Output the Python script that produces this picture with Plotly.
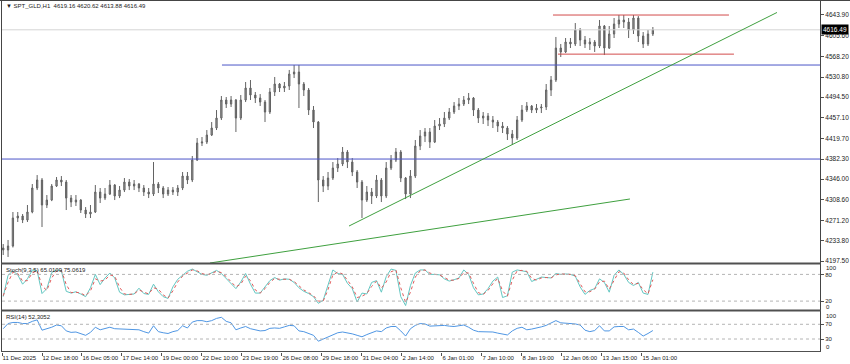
import plotly.graph_objects as go

# ---------------- data ----------------
bar_hours = list(range(1, 540, 4))  # 4-hour candles on an hourly time index

opens = [4221.1, 4217.5, 4224.7, 4275.4, 4279.0, 4271.8, 4286.3, 4329.8, 4344.3, 4299.0,
         4308.0, 4333.4, 4344.3, 4340.6, 4311.6, 4304.4, 4308.0, 4289.9, 4282.7, 4286.3,
         4322.5, 4311.6, 4318.9, 4335.2, 4315.3, 4326.1, 4340.6, 4333.4, 4337.0, 4329.8,
         4322.5, 4318.9, 4337.0, 4329.8, 4318.9, 4326.1, 4322.5, 4329.8, 4351.5, 4344.3,
         4380.5, 4411.3, 4413.1, 4425.8, 4438.5, 4456.6, 4489.3, 4482.0, 4489.3, 4456.6,
         4489.3, 4511.0, 4498.3, 4492.9, 4485.6, 4467.5, 4503.8, 4518.3, 4511.0, 4514.6,
         4536.4, 4540.0, 4518.3, 4507.4, 4471.1, 4449.4, 4344.3, 4333.4, 4347.9, 4366.0,
         4373.3, 4395.0, 4376.9, 4358.8, 4340.6, 4308.0, 4322.5, 4315.3, 4344.3, 4315.3,
         4366.0, 4380.5, 4395.0, 4347.9, 4318.9, 4351.5, 4405.9, 4424.0, 4431.3, 4413.1,
         4442.1, 4445.8, 4456.6, 4467.5, 4478.4, 4482.0, 4489.3, 4492.9, 4471.1, 4456.6,
         4460.3, 4453.0, 4449.4, 4442.1, 4438.5, 4427.6, 4420.4, 4453.0, 4471.1, 4478.4,
         4471.1, 4474.8, 4476.6, 4507.4, 4525.5, 4583.5, 4576.3, 4594.4, 4590.8, 4616.1,
         4598.0, 4590.8, 4594.4, 4587.1, 4623.4, 4583.5, 4608.9, 4627.0, 4634.3, 4630.6,
         4616.1, 4637.9, 4605.3, 4590.8, 4608.9]

highs = [4228.3, 4235.6, 4286.3, 4286.3, 4282.7, 4299.0, 4337.0, 4353.3, 4347.9, 4317.1,
         4337.0, 4349.7, 4351.5, 4344.3, 4317.1, 4317.1, 4309.8, 4295.3, 4299.0, 4335.2,
         4329.8, 4329.8, 4344.3, 4337.0, 4333.4, 4347.9, 4346.1, 4344.3, 4338.8, 4335.2,
         4329.8, 4376.9, 4340.6, 4333.4, 4331.6, 4331.6, 4335.2, 4358.8, 4358.8, 4387.8,
         4420.4, 4422.2, 4434.9, 4449.4, 4471.1, 4496.5, 4494.7, 4496.5, 4491.1, 4498.3,
         4521.9, 4525.5, 4503.8, 4500.1, 4489.3, 4511.0, 4531.0, 4520.1, 4521.9, 4543.7,
         4552.7, 4552.7, 4521.9, 4511.0, 4478.4, 4451.2, 4351.5, 4358.8, 4376.9, 4384.1,
         4404.1, 4398.6, 4384.1, 4362.4, 4344.3, 4333.4, 4329.8, 4353.3, 4347.9, 4376.9,
         4389.6, 4402.3, 4398.6, 4349.7, 4362.4, 4416.8, 4434.9, 4438.5, 4438.5, 4453.0,
         4456.6, 4467.5, 4474.8, 4485.6, 4492.9, 4496.5, 4502.0, 4494.7, 4474.8, 4467.5,
         4465.7, 4460.3, 4453.0, 4449.4, 4442.1, 4434.9, 4460.3, 4480.2, 4485.6, 4480.2,
         4482.0, 4482.0, 4518.3, 4532.8, 4603.5, 4590.8, 4601.6, 4601.6, 4628.8, 4619.8,
         4605.3, 4601.6, 4598.0, 4634.3, 4625.2, 4623.4, 4637.9, 4643.3, 4643.3, 4637.9,
         4643.3, 4641.5, 4612.5, 4616.1, 4621.6]

lows = [4208.4, 4204.8, 4222.0, 4268.2, 4266.3, 4268.2, 4284.0, 4326.1, 4259.1, 4293.5,
        4306.0, 4331.6, 4333.4, 4289.9, 4295.3, 4297.2, 4284.5, 4275.4, 4275.4, 4284.5,
        4302.6, 4308.0, 4317.1, 4308.0, 4311.6, 4322.5, 4326.1, 4326.1, 4322.5, 4315.3,
        4311.6, 4315.3, 4320.7, 4311.6, 4315.3, 4317.1, 4315.3, 4326.1, 4337.0, 4340.6,
        4378.7, 4405.9, 4409.5, 4424.0, 4434.9, 4453.0, 4474.8, 4476.6, 4431.3, 4453.0,
        4485.6, 4489.3, 4483.8, 4478.4, 4449.4, 4463.9, 4496.5, 4503.8, 4503.8, 4507.4,
        4529.1, 4474.8, 4496.5, 4462.1, 4438.5, 4304.4, 4322.5, 4326.1, 4344.3, 4358.8,
        4369.6, 4366.0, 4351.5, 4329.8, 4275.4, 4304.4, 4300.8, 4311.6, 4304.4, 4311.6,
        4362.4, 4376.9, 4340.6, 4309.8, 4311.6, 4347.9, 4398.6, 4413.1, 4402.3, 4411.3,
        4434.9, 4440.3, 4453.0, 4463.9, 4471.1, 4478.4, 4482.0, 4460.3, 4447.6, 4445.8,
        4442.1, 4438.5, 4431.3, 4429.5, 4416.8, 4407.7, 4416.8, 4449.4, 4467.5, 4465.7,
        4465.7, 4465.7, 4471.1, 4496.5, 4521.9, 4567.2, 4574.4, 4583.5, 4587.1, 4587.1,
        4583.5, 4579.9, 4576.3, 4583.5, 4570.8, 4581.7, 4601.6, 4619.8, 4619.8, 4601.6,
        4608.9, 4594.4, 4583.5, 4587.1, 4605.3]

closes = [4217.5, 4224.7, 4275.4, 4279.0, 4271.8, 4286.3, 4329.8, 4344.3, 4299.0, 4308.0,
          4333.4, 4344.3, 4340.6, 4311.6, 4304.4, 4308.0, 4289.9, 4282.7, 4286.3, 4322.5,
          4311.6, 4318.9, 4335.2, 4315.3, 4326.1, 4340.6, 4333.4, 4337.0, 4329.8, 4322.5,
          4318.9, 4337.0, 4329.8, 4318.9, 4326.1, 4322.5, 4329.8, 4351.5, 4344.3, 4380.5,
          4411.3, 4413.1, 4425.8, 4438.5, 4456.6, 4489.3, 4482.0, 4489.3, 4456.6, 4489.3,
          4511.0, 4498.3, 4492.9, 4485.6, 4467.5, 4503.8, 4518.3, 4511.0, 4514.6, 4536.4,
          4540.0, 4518.3, 4507.4, 4471.1, 4449.4, 4344.3, 4333.4, 4347.9, 4366.0, 4373.3,
          4395.0, 4376.9, 4358.8, 4340.6, 4308.0, 4322.5, 4315.3, 4344.3, 4315.3, 4366.0,
          4380.5, 4395.0, 4347.9, 4318.9, 4351.5, 4405.9, 4424.0, 4431.3, 4413.1, 4442.1,
          4445.8, 4456.6, 4467.5, 4478.4, 4482.0, 4489.3, 4492.9, 4471.1, 4456.6, 4460.3,
          4453.0, 4449.4, 4442.1, 4438.5, 4427.6, 4420.4, 4453.0, 4471.1, 4478.4, 4471.1,
          4474.8, 4476.6, 4507.4, 4525.5, 4583.5, 4576.3, 4594.4, 4590.8, 4616.1, 4598.0,
          4590.8, 4594.4, 4587.1, 4623.4, 4583.5, 4608.9, 4627.0, 4634.3, 4630.6, 4616.1,
          4637.9, 4605.3, 4590.8, 4608.9, 4616.49]

stoch_main = [30, 78, 88, 79, 58, 70, 90, 88, 37, 48, 84, 90, 88, 42, 38, 41, 36, 30, 50, 80,
              57, 72, 83, 72, 40, 34, 35, 36, 49, 37, 35, 58, 41, 30, 26, 52, 69, 79, 87, 92,
              86, 80, 78, 84, 89, 82, 71, 59, 48, 63, 82, 58, 38, 38, 53, 66, 73, 67, 70, 69,
              62, 50, 42, 37, 30, 15, 22, 58, 90, 82, 80, 60, 48, 18, 38, 36, 62, 66, 40, 75,
              92, 89, 30, 10, 55, 83, 90, 90, 80, 80, 79, 70, 65, 68, 72, 90, 80, 50, 34, 36,
              48, 65, 74, 28, 32, 85, 90, 88, 86, 64, 69, 74, 73, 72, 82, 80, 81, 80, 76, 52,
              35, 44, 48, 70, 62, 40, 78, 90, 80, 62, 55, 62, 38, 35, 85]

stoch_signal = [32, 62, 85, 82, 65, 66, 83, 89, 54, 44, 72, 88, 89, 57, 39, 40, 38, 32, 43, 70,
                65, 67, 79, 76, 51, 36, 35, 36, 45, 41, 36, 50, 47, 34, 27, 43, 63, 76, 84, 90,
                88, 82, 79, 82, 87, 84, 75, 63, 52, 58, 76, 66, 45, 38, 48, 62, 71, 69, 69, 69,
                64, 54, 45, 39, 32, 20, 20, 46, 79, 85, 81, 67, 52, 28, 31, 37, 53, 65, 49, 63,
                86, 90, 50, 17, 40, 74, 88, 90, 83, 80, 79, 73, 67, 67, 71, 84, 83, 60, 39, 35,
                44, 59, 71, 43, 31, 67, 88, 89, 87, 71, 67, 72, 73, 72, 79, 81, 81, 80, 77, 60,
                41, 41, 47, 63, 65, 47, 65, 86, 83, 68, 57, 60, 46, 36, 68]

rsi_values = [58, 72, 75, 75, 72, 72, 78, 82, 54, 57, 62, 68, 66, 52, 48, 49, 45, 40, 48, 62,
              55, 58, 62, 58, 57, 58, 55, 56, 55, 50, 46, 66, 50, 47, 45, 50, 53, 66, 60, 76,
              80, 80, 77, 80, 86, 89, 78, 74, 55, 60, 64, 58, 54, 52, 53, 59, 60, 59, 63, 67,
              66, 52, 50, 44, 40, 24, 30, 34, 40, 47, 49, 47, 44, 40, 36, 42, 46, 52, 50, 60,
              64, 64, 52, 38, 58, 67, 72, 71, 65, 66, 68, 67, 65, 64, 66, 68, 62, 54, 50, 50,
              50, 49, 46, 44, 41, 52, 59, 62, 55, 57, 59, 63, 67, 74, 80, 74, 73, 73, 71, 68,
              54, 50, 53, 66, 52, 52, 63, 64, 64, 55, 57, 48, 38, 45, 53]

price_ticks = [4643.90, 4605.60, 4568.20, 4530.80, 4494.50, 4457.10, 4419.70,
               4382.30, 4346.00, 4308.60, 4271.20, 4233.80, 4197.50]

time_tick_hours = [0, 33, 66, 99, 132, 165, 198, 231, 264, 297, 330, 363, 396, 429, 462, 495, 528]
time_tick_labels = ["11 Dec 2025", "12 Dec 18:00", "16 Dec 05:00", "17 Dec 14:00", "19 Dec 00:00",
                    "22 Dec 10:00", "23 Dec 19:00", "26 Dec 08:00", "29 Dec 18:00", "31 Dec 04:00",
                    "2 Jan 14:00", "6 Jan 01:00", "7 Jan 10:00", "8 Jan 19:00", "12 Jan 06:00",
                    "13 Jan 15:00", "15 Jan 01:00"]

# drawn objects (time index, price)
blue_levels = [4552.7, 4382.3]
blue_starts = [181.5, 0.0]
red_levels = [4643.3, 4572.4]
red_starts = [454.6, 458.7]
red_ends = [599.8, 603.9]
green_t0 = [286.3, 171.6]
green_p0 = [4260.9, 4193.9]
green_t1 = [639.4, 518.1]
green_p1 = [4647.9, 4309.9]
current_price = 4616.49

header_text = "\u25bc SPT_GLD,H1  4619.16 4620.62 4613.88 4616.49"
stoch_text = "Stoch(9,3,5) 65.0109 75.0619"
rsi_text = "RSI(14) 52.3052"

# ---------------- layout helpers ----------------
W, H = 850, 364
X_END = 674.9
FONT = "Liberation Sans"


def px(x):
    return x / W


def py(y):
    return 1 - y / H


fig = go.Figure()

fig.add_trace(go.Candlestick(
    x=bar_hours, open=opens, high=highs, low=lows, close=closes,
    increasing=dict(line=dict(color="#636363", width=1), fillcolor="#a0a0a0"),
    decreasing=dict(line=dict(color="#636363", width=1), fillcolor="#636363"),
    whiskerwidth=0, xaxis="x", yaxis="y", hoverinfo="skip", showlegend=False))

fig.add_trace(go.Scatter(x=bar_hours, y=stoch_main, mode="lines",
                         line=dict(color="#63c6c1", width=1), xaxis="x", yaxis="y2",
                         hoverinfo="skip", showlegend=False))
fig.add_trace(go.Scatter(x=bar_hours, y=stoch_signal, mode="lines",
                         line=dict(color="#e05a5a", width=1, dash="dot"), xaxis="x", yaxis="y2",
                         hoverinfo="skip", showlegend=False))
fig.add_trace(go.Scatter(x=bar_hours, y=rsi_values, mode="lines",
                         line=dict(color="#4f96e3", width=1), xaxis="x", yaxis="y3",
                         hoverinfo="skip", showlegend=False))

shapes = []
# current price line
shapes.append(dict(type="line", xref="x domain", yref="y", x0=0, x1=1,
                   y0=current_price, y1=current_price, line=dict(color="#d4d4d4", width=1)))
for lvl, st in zip(blue_levels, blue_starts):
    shapes.append(dict(type="line", xref="x", yref="y", x0=st, x1=X_END, y0=lvl, y1=lvl,
                       line=dict(color="#4b55c8", width=1)))
for lvl, st, en in zip(red_levels, red_starts, red_ends):
    shapes.append(dict(type="line", xref="x", yref="y", x0=st, x1=en, y0=lvl, y1=lvl,
                       line=dict(color="#d24b4b", width=1)))
for t0, p0, t1, p1 in zip(green_t0, green_p0, green_t1, green_p1):
    shapes.append(dict(type="line", xref="x", yref="y", x0=t0, x1=t1, y0=p0, y1=p1,
                       line=dict(color="#3fa03f", width=1)))
# indicator levels
for lvl in (80, 20):
    shapes.append(dict(type="line", xref="x domain", yref="y2", x0=0, x1=1, y0=lvl, y1=lvl,
                       line=dict(color="#b4b4b4", width=1, dash="dot")))
for lvl in (70, 30):
    shapes.append(dict(type="line", xref="x domain", yref="y3", x0=0, x1=1, y0=lvl, y1=lvl,
                       line=dict(color="#b4b4b4", width=1, dash="dot")))
# frames
frame = "#454545"
shapes.append(dict(type="line", xref="paper", yref="paper", x0=0, x1=1, y0=py(0.5), y1=py(0.5),
                   line=dict(color=frame, width=1)))
shapes.append(dict(type="line", xref="paper", yref="paper", x0=px(1.5), x1=px(1.5), y0=py(0), y1=py(352),
                   line=dict(color=frame, width=1)))
shapes.append(dict(type="line", xref="paper", yref="paper", x0=px(820.5), x1=px(820.5), y0=py(0), y1=py(352),
                   line=dict(color=frame, width=1)))
for yy, ww in ((263.5, 2), (310.5, 2), (351.5, 1)):
    shapes.append(dict(type="line", xref="paper", yref="paper", x0=px(1), x1=px(821), y0=py(yy), y1=py(yy),
                       line=dict(color="#505050", width=ww)))

annotations = [
    dict(text=header_text, xref="paper", yref="paper", x=px(4), y=py(6), xanchor="left", yanchor="middle",
         showarrow=False, font=dict(family=FONT, size=6, color="#1a1a1a")),
    dict(text=stoch_text, xref="paper", yref="paper", x=px(4), y=py(270), xanchor="left", yanchor="middle",
         showarrow=False, font=dict(family=FONT, size=6, color="#1a1a1a")),
    dict(text=rsi_text, xref="paper", yref="paper", x=px(4), y=py(317), xanchor="left", yanchor="middle",
         showarrow=False, font=dict(family=FONT, size=6, color="#1a1a1a")),
    dict(text=f"{current_price:.2f}", xref="paper", yref="y", x=px(821), y=current_price,
         xanchor="left", yanchor="middle", showarrow=False, bgcolor="#000000", borderpad=1,
         font=dict(family=FONT, size=6.5, color="#ffffff")),
]
for txt, yy in (("100", 268), ("0", 307), ("100", 316), ("0", 347)):
    annotations.append(dict(text=txt, xref="paper", yref="paper", x=px(824), y=py(yy),
                            xanchor="left", yanchor="middle", showarrow=False,
                            font=dict(family=FONT, size=6, color="#1a1a1a")))

axis_common = dict(showgrid=False, zeroline=False, showline=False, fixedrange=True, automargin=False)
yfont = dict(family=FONT, size=6.5, color="#1a1a1a")
subfont = dict(family=FONT, size=6, color="#1a1a1a")

fig.update_layout(
    width=W, height=H, autosize=False,
    margin=dict(l=0, r=0, t=0, b=0, pad=0),
    paper_bgcolor="#ffffff", plot_bgcolor="#ffffff",
    boxgap=0.62,
    showlegend=False,
    xaxis=dict(domain=[px(2), px(820)], range=[0, X_END], anchor="y3",
               tickmode="array", tickvals=time_tick_hours, ticktext=time_tick_labels,
               ticks="outside", ticklen=3, tickcolor="#505050", tickangle=0,
               ticklabelposition="outside right",
               tickfont=dict(family=FONT, size=6, color="#1a1a1a"),
               rangeslider=dict(visible=False), **axis_common),
    yaxis=dict(domain=[py(263), py(2)], range=[4193.9, 4666.9], side="right", anchor="x",
               tickmode="array", tickvals=price_ticks, ticktext=[f"{v:.2f}" for v in price_ticks],
               ticks="outside", ticklen=3, tickcolor="#505050", tickfont=yfont, **axis_common),
    yaxis2=dict(domain=[py(310), py(265.5)], range=[0, 100], side="right", anchor="x",
                tickmode="array", tickvals=[80, 20], ticktext=["80", "20"],
                ticks="outside", ticklen=3, tickcolor="#505050", tickfont=subfont, **axis_common),
    yaxis3=dict(domain=[py(351.5), py(311.5)], range=[-4, 104.8], side="right", anchor="x",
                tickmode="array", tickvals=[70, 30], ticktext=["70", "30"],
                ticks="outside", ticklen=3, tickcolor="#505050", tickfont=subfont, **axis_common),
    shapes=shapes,
    annotations=annotations,
)

fig.write_html("out.html")
